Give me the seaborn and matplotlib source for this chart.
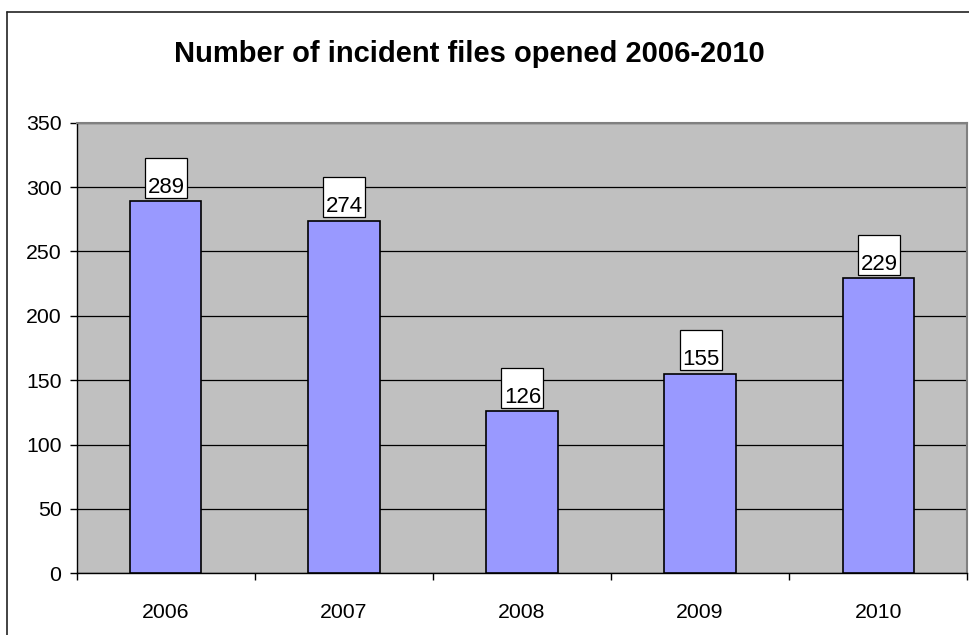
import matplotlib
matplotlib.use("Agg")
import matplotlib.pyplot as plt
import matplotlib.transforms as mtransforms
from matplotlib.patches import Rectangle
from matplotlib.lines import Line2D
import seaborn as sns
import pandas as pd

years = ["2006", "2007", "2008", "2009", "2010"]
counts = [289, 274, 126, 155, 229]
title = "Number of incident files opened 2006-2010"

sns.set_theme(style="white")
plt.rcParams["font.family"] = ["Liberation Sans", "DejaVu Sans"]

W, H, DPI = 970, 635, 100
fig = plt.figure(figsize=(W / DPI, H / DPI), dpi=DPI)
fig.patch.set_facecolor("white")

left, right, top, bottom = 76.7, 967.3, 122.7, 573.3
ax = fig.add_axes([left / W, (H - bottom) / H, (right - left) / W, (bottom - top) / H])
ax.set_facecolor("#C0C0C0")

df = pd.DataFrame({"year": years, "count": counts})
sns.barplot(data=df, x="year", y="count", ax=ax, color="#9999FF",
            saturation=1, width=0.4, edgecolor="black", linewidth=1.2, zorder=3)

ax.set_ylim(0, 350)
ax.set_xlim(-0.5, len(years) - 0.5)
ax.set_yticks(range(0, 351, 50))
ax.yaxis.grid(True, color="black", linewidth=0.9)
ax.set_axisbelow(True)
ax.set_xlabel("")
ax.set_ylabel("")

# x ticks at category boundaries, labels at centers
ax.set_xticks([i - 0.5 for i in range(len(years) + 1)])
ax.set_xticklabels([])
ax.set_xticks(range(len(years)), minor=True)
ax.set_xticklabels(years, minor=True)
ax.tick_params(axis="x", which="major", direction="out", length=5, width=1, color="black", bottom=True)
ax.tick_params(axis="x", which="minor", length=0, pad=21.5, labelsize=15.3, labelcolor="black")
ax.tick_params(axis="y", which="major", direction="out", length=5, width=1, color="black", left=True,
               pad=6, labelsize=15.3, labelcolor="black")

for s in ["left", "bottom"]:
    ax.spines[s].set_color("black")
    ax.spines[s].set_linewidth(1)
for s in ["top", "right"]:
    ax.spines[s].set_color("#808080")
    ax.spines[s].set_linewidth(1.5)

# value labels with white boxes
for i, v in enumerate(counts):
    off = mtransforms.ScaledTranslation(i, v, ax.transData)
    tr = mtransforms.Affine2D().translate(-20.5, 3.5) + off
    box = Rectangle((0, 0), 42, 40, transform=tr, facecolor="white",
                    edgecolor="black", linewidth=0.9, zorder=4, clip_on=False)
    ax.add_artist(box)
    ax.annotate(str(v), xy=(i, v), xytext=(1, 8.5), textcoords="offset pixels",
                ha="center", va="baseline", fontsize=16, color="black", zorder=5)

fig.text(469.5 / W, (H - 61.7) / H, title, ha="center", va="baseline",
         fontsize=21, fontweight="bold", color="black")

# outer chart border
fig.add_artist(Line2D([7.5 / W, 7.5 / W], [0, (H - 12) / H], transform=fig.transFigure,
                      color="#222222", linewidth=1.2))
fig.add_artist(Line2D([7.5 / W, 1], [(H - 12) / H, (H - 12) / H], transform=fig.transFigure,
                      color="#222222", linewidth=1.2))

fig.savefig("out.png", dpi=DPI)
